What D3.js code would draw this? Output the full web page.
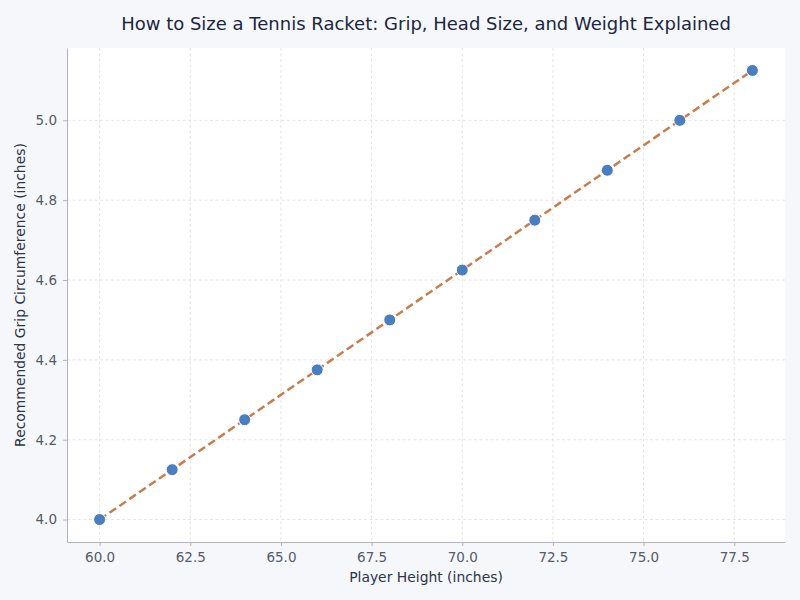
<!DOCTYPE html>
<html>
<head>
<meta charset="utf-8">
<script src="https://cdn.jsdelivr.net/npm/d3@7"></script>
<style>
  body { margin: 0; background: #f5f7fb; }
  svg { font-family: "DejaVu Sans", sans-serif; }
  .grid line { stroke: #dedede; stroke-dasharray: 3,2.5; stroke-width: 0.8; }
  .axis path, .axis line { stroke: #b0b3ba; }
  .axis text { fill: #555b68; font-size: 13.5px; font-family: "DejaVu Sans", sans-serif; }
</style>
</head>
<body>
<div class="container"></div>
<script>
const WIDTH = 800;
const HEIGHT = 600;
const LEFT = 67, RIGHT = 785, TOP = 48, BOTTOM = 542;

var heights = [60, 62, 64, 66, 68, 70, 72, 74, 76, 78];
var grips = [4.0, 4.125, 4.25, 4.375, 4.5, 4.625, 4.75, 4.875, 5.0, 5.125];
var xTicks = [60.0, 62.5, 65.0, 67.5, 70.0, 72.5, 75.0, 77.5];
var yTicks = [4.0, 4.2, 4.4, 4.6, 4.8, 5.0];

var translate = function (x, y) {
    return "translate(" + x + "," + y + ")";
};

var svg = d3.select('.container').append('svg')
    .attr('width', WIDTH)
    .attr('height', HEIGHT);

svg.append('rect')
    .attr('width', WIDTH).attr('height', HEIGHT)
    .attr('fill', '#f5f7fb');

svg.append('rect')
    .attr('x', LEFT).attr('y', TOP)
    .attr('width', RIGHT - LEFT).attr('height', BOTTOM - TOP)
    .attr('fill', '#ffffff');

// 5% padding like the original
var xPad = (d3.max(heights) - d3.min(heights)) * 0.05;
var yPad = (d3.max(grips) - d3.min(grips)) * 0.05;

var xScale = d3.scaleLinear()
    .domain([d3.min(heights) - xPad, d3.max(heights) + xPad])
    .range([LEFT, RIGHT]);
var yScale = d3.scaleLinear()
    .domain([d3.min(grips) - yPad, d3.max(grips) + yPad])
    .range([BOTTOM, TOP]);

// grid
svg.append('g').classed('grid', true)
    .selectAll('line.v').data(xTicks).enter().append('line')
    .attr('x1', d => xScale(d)).attr('x2', d => xScale(d))
    .attr('y1', TOP).attr('y2', BOTTOM);
svg.select('.grid')
    .selectAll('line.h').data(yTicks).enter().append('line')
    .attr('x1', LEFT).attr('x2', RIGHT)
    .attr('y1', d => yScale(d)).attr('y2', d => yScale(d));

var xAxis = d3.axisBottom(xScale).tickValues(xTicks)
    .tickFormat(d3.format('.1f')).tickSize(4).tickPadding(6).tickSizeOuter(0);
var yAxis = d3.axisLeft(yScale).tickValues(yTicks)
    .tickFormat(d3.format('.1f')).tickSize(4).tickPadding(6).tickSizeOuter(0);

svg.append('g')
    .attr('transform', translate(0, BOTTOM))
    .classed('axis', true)
    .call(xAxis);

svg.append('g')
    .attr('transform', translate(LEFT, 0))
    .classed('axis', true)
    .call(yAxis);

var line = d3.line()
    .x(function (d, i) { return xScale(heights[i]); })
    .y(function (d) { return yScale(d); });

svg.append('path')
    .attr('d', line(grips))
    .attr('fill', 'none')
    .attr('stroke', '#c97c4e')
    .attr('stroke-width', 2.5)
    .attr('stroke-dasharray', '8,4');

svg.selectAll('circle.pt').data(grips).enter().append('circle')
    .attr('cx', (d, i) => xScale(heights[i]))
    .attr('cy', d => yScale(d))
    .attr('r', 6)
    .attr('fill', '#4a7ebf')
    .attr('stroke', '#ffffff')
    .attr('stroke-width', 1);

svg.append('text')
    .attr('x', (LEFT + RIGHT) / 2 + 0).attr('y', 29.5)
    .attr('text-anchor', 'middle')
    .attr('fill', '#1b2640')
    .attr('font-size', '18px')
    .text('How to Size a Tennis Racket: Grip, Head Size, and Weight Explained');

svg.append('text')
    .attr('x', (LEFT + RIGHT) / 2).attr('y', 582)
    .attr('text-anchor', 'middle')
    .attr('fill', '#2b3448')
    .attr('font-size', '13.9px')
    .text('Player Height (inches)');

svg.append('text')
    .attr('transform', translate(25, (TOP + BOTTOM) / 2) + ' rotate(-90)')
    .attr('text-anchor', 'middle')
    .attr('fill', '#2b3448')
    .attr('font-size', '13.9px')
    .text('Recommended Grip Circumference (inches)');
</script>
</body>
</html>
